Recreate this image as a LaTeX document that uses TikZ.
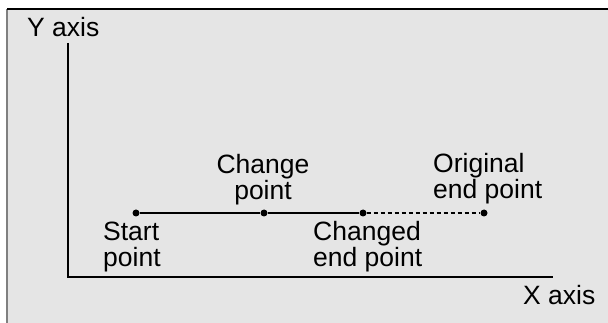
\documentclass[tikz,border=0pt]{standalone}
\usepackage{fontspec}
\setmainfont{Liberation Sans}
\usetikzlibrary{positioning}
\definecolor{panelc}{RGB}{229,229,229}
\definecolor{edgec}{RGB}{128,128,128}

\begin{document}
\begin{tikzpicture}[x=1pt,y=-1pt,
  pt/.style={circle,fill,inner sep=0pt,minimum size=7pt},
  lbl/.style={inner sep=0pt,align=left,font=\fontsize{26.5}{26}\selectfont}]
\useasboundingbox (0,0) rectangle (608,323);
% panel
\fill[panelc] (7,9) rectangle (608,323);
\draw[edgec,line width=2pt] (7,9)--(7,323);
\draw[line width=1.5pt] (7,9)--(608,9);
% axes
\coordinate (o) at (68,277);
\coordinate (ytop) at (68,43);
\coordinate (xend) at (553,277);
\draw[line width=1.2pt] (ytop)--(o)--(xend);
\node[lbl,anchor=base west] (ylbl) at (27,37) {Y axis};
\node[lbl,anchor=base west] (xlbl) at (523,305) {X axis};
% points on the segment
\node[pt] (start) at (136,213) {};
\node[pt] (chg) at (264,213) {};
\node[pt] (newend) at (363,213) {};
\node[pt] (oldend) at (484,213) {};
\draw[line width=1.2pt] (start)--(chg)--(newend);
\draw[line width=1.2pt,dash pattern=on 4pt off 3pt] (newend)--(oldend);
% labels (base = last line)
\node[lbl,anchor=base west] (startlbl) at (103,266) {Start\\point};
\node[lbl,align=center,anchor=base] (chglbl) at (263,200) {Change\\point};
\node[lbl,anchor=base west] (newlbl) at (313,267) {Changed\\end point};
\node[lbl,anchor=base west] (oldlbl) at (433,199) {Original\\end point};
\end{tikzpicture}
\end{document}
